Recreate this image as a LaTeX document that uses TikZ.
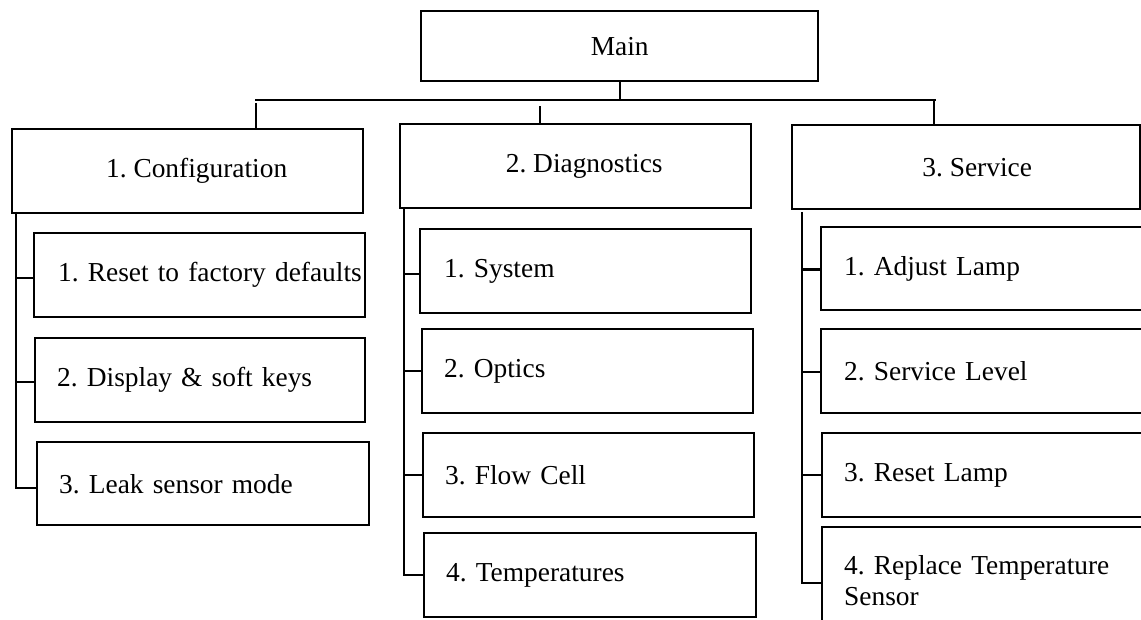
\documentclass[tikz,border=0pt]{standalone}
\usepackage{fontspec}
\setmainfont{Liberation Serif}
\begin{document}
\begin{tikzpicture}[x=1pt,y=-1pt,
  box/.style={draw, line width=2.4pt, inner sep=0pt, anchor=north west,
    font=\fontsize{27.4}{31}\selectfont\frenchspacing},
  item/.style={box, align=left},
  link/.style={line width=2.4pt}]
\useasboundingbox (0,0) rectangle (1141,620);
\clip (0,0) rectangle (1141,620);
% top level
\node[box, minimum width=397pt, minimum height=70pt] (main) at (420,10) {Main};
\node[box, minimum width=351pt, minimum height=84pt] (conf) at (11,128) {\hspace*{18pt}1. Configuration};
\node[box, minimum width=351pt, minimum height=84pt] (diag) at (399,123) {\hspace*{17pt}2. Diagnostics};
\node[box, minimum width=348pt, minimum height=84pt] (serv) at (791,124) {\hspace*{22pt}3. Service};
% configuration items
\node[item, text width=331pt, minimum height=84pt] (c1) at (33,232) {\hspace*{24pt}1. Reset to factory defaults};
\node[item, text width=330pt, minimum height=84pt] (c2) at (34,337) {\hspace*{22pt}2. Display \& soft keys};
\node[item, text width=332pt, minimum height=83pt] (c3) at (36,441) {\hspace*{22pt}3. Leak sensor mode};
% diagnostics items
\node[item, text width=331pt, minimum height=84pt] (d1) at (419,228) {\hspace*{24pt}1. System};
\node[item, text width=331pt, minimum height=84pt] (d2) at (421,328) {\hspace*{22pt}2. Optics};
\node[item, text width=331pt, minimum height=84pt] (d3) at (422,432) {\hspace*{22pt}3. Flow Cell};
\node[item, text width=332pt, minimum height=84pt] (d4) at (423,532) {\hspace*{22pt}4. Temperatures};
% service items
\node[item, text width=360pt, minimum height=83pt] (s1) at (820,226) {\hspace*{23pt}1. Adjust Lamp};
\node[item, text width=360pt, minimum height=84pt] (s2) at (820,328) {\hspace*{23pt}2. Service Level};
\node[item, text width=360pt, minimum height=84pt] (s3) at (821,432) {\hspace*{22pt}3. Reset Lamp};
\node[item, text width=360pt, minimum height=106pt] (s4) at (821,526) {\hspace*{22pt}4. Replace Temperature\\\hspace*{22pt}Sensor};
% bus
\coordinate (busL) at (255,100);
\coordinate (busR) at (936,100);
\draw[link] (main.south) -- (main.south |- busL);
\draw[link] (busL) -- (busR);
\draw[link] ([xshift=245pt]conf.north west) -- ++(0,-25);
\draw[link] ([xshift=141pt]diag.north west) -- ++(0,-17);
\draw[link] ([xshift=143pt]serv.north west) -- ++(0,-24);
% configuration spine
\coordinate (cs) at (16,212);
\draw[link] (cs) |- ([yshift=-4pt]c3.west);
\draw[link] ([yshift=-3pt]cs |- c1.west) -- ([yshift=-3pt]c1.west);
\draw[link] ([yshift=-2pt]cs |- c2.west) -- ([yshift=-2pt]c2.west);
% diagnostics spine
\coordinate (ds) at (404,207);
\draw[link] (ds) |- (d4.west);
\draw[link] ([yshift=-3pt]ds |- d1.west) -- ([yshift=-3pt]d1.west);
\draw[link] (ds |- d2.west) -- (d2.west);
\draw[link] (ds |- d3.west) -- (d3.west);
% service spine
\coordinate (ss) at (802,212);
\draw[link] (ss) |- ([yshift=-3pt]s4.west);
\draw[link] ([yshift=-1pt]ss |- s1.west) -- ([yshift=-1pt]s1.west);
\draw[link] ([yshift=-1pt]ss |- s2.west) -- ([yshift=-1pt]s2.west);
\draw[link] (ss |- s3.west) -- (s3.west);
\end{tikzpicture}
\end{document}
